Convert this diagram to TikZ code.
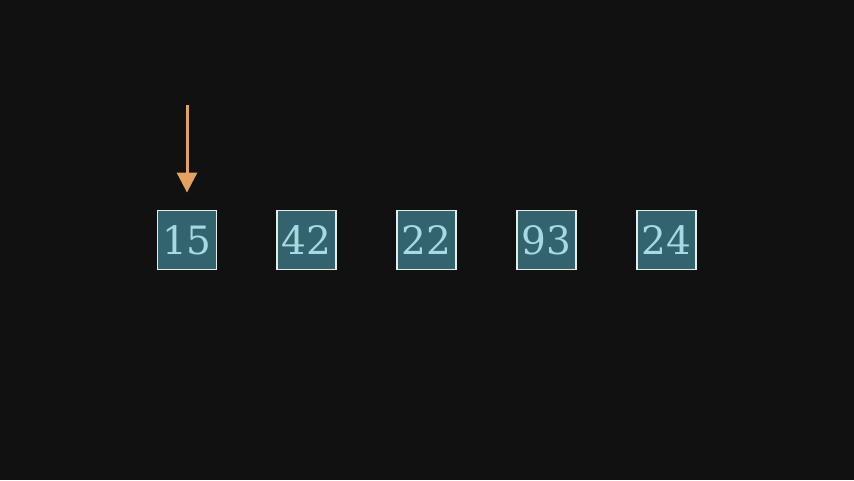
\documentclass[tikz,border=0pt]{standalone}
\usepackage{fontspec}
\setmainfont{DejaVu Serif}
\usetikzlibrary{arrows.meta,positioning}
\definecolor{bgdark}{HTML}{111111}
\definecolor{cellfill}{HTML}{33646D}
\definecolor{celltext}{HTML}{A6DAE2}
\definecolor{cellline}{HTML}{E4ECEC}
\definecolor{ptrcol}{HTML}{E2A262}
\tikzset{
  cell/.style={
    draw=cellline,fill=cellfill,text=celltext,line width=1.8pt,
    minimum size=59pt,inner sep=0pt,
    font=\fontsize{39}{46}\selectfont
  },
  ptr/.style={-{Triangle[width=20pt,length=20pt]},line width=3pt,draw=ptrcol,shorten >=17pt}
}

\begin{document}
\begin{tikzpicture}[x=1pt,y=1pt,node distance=59pt]

\fill[bgdark] (0,0) rectangle (854,480);
\useasboundingbox (0,0) rectangle (854,480);

\node[cell] (c1) at (187,240) {15};
\node[cell,right=of c1] (c2) {42};
\node[cell,right=of c2] (c3) {22};
\node[cell,right=of c3] (c4) {93};
\node[cell,right=of c4] (c5) {24};

\coordinate (top) at (187,375);
\draw[ptr] (top) -- (c1);

\end{tikzpicture}
\end{document}
